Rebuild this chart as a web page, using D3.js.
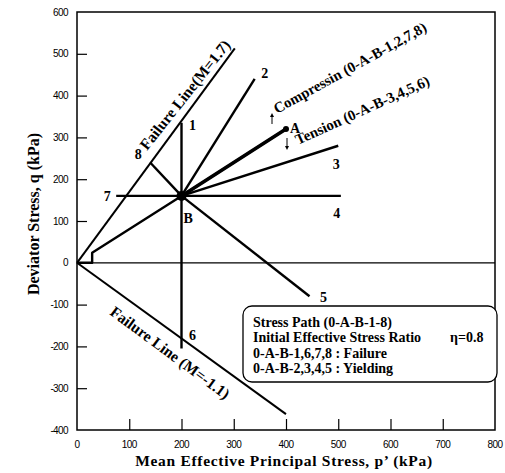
<!DOCTYPE html>
<html>
<head>
<meta charset="utf-8">
<script src="https://cdn.jsdelivr.net/npm/d3@7"></script>
<style>
  html, body { margin: 0; padding: 0; background: #fff; }
  svg { display: block; }
</style>
</head>
<body>
<svg id="chart" width="505" height="473"></svg>
<script>
// Axis ticks
const xTicks = [0, 100, 200, 300, 400, 500, 600, 700, 800];
const yTicks = [600, 500, 400, 300, 200, 100, 0, -100, -200, -300, -400];

// Loading path from origin up to A (η = 0.8), then unloading back to B
const pathOA = [[0, 0], [29, 0], [29, 24], [200, 160], [400, 320]];
const pointA = [400, 320];
const pointB = [200, 160];

// Stress path branches leaving B
const branchNames = ["1", "2", "3", "4", "5", "6", "7", "8"];
const branchEnds = [[200, 335], [340, 440], [500, 280], [505, 160], [445, -80], [200, -205], [75, 160], [140, 240]];

// Failure lines
const failComp = [[0, 0], [302, 513]];
const failExt = [[0, 0], [400, -362]];

const svg = d3.select("#chart");
const x = d3.scaleLinear().domain([0, 800]).range([77, 495]);
const y = d3.scaleLinear().domain([-400, 600]).range([430, 12]);
const line = d3.line().x(d => x(d[0])).y(d => y(d[1]));

const serif = "'Liberation Serif', 'Times New Roman', serif";
const sans = "'Liberation Sans Narrow', 'Liberation Sans', Arial, sans-serif";

// Frame
svg.append("rect")
  .attr("x", x(0)).attr("y", y(600))
  .attr("width", x(800) - x(0)).attr("height", y(-400) - y(600))
  .attr("fill", "none").attr("stroke", "#000").attr("stroke-width", 1.5);

// Inward ticks
const xAxis = d3.axisBottom(x).tickValues(xTicks.slice(1, -1)).tickSizeInner(-11).tickSizeOuter(0).tickFormat("");
svg.append("g").attr("transform", `translate(0,${y(-400)})`).call(xAxis)
  .call(g => g.select(".domain").remove())
  .selectAll("line").attr("stroke-width", 1.2);
const yAxis = d3.axisLeft(y).tickValues(yTicks.filter(v => v !== 600 && v !== -400 && v !== 0)).tickSizeInner(-10).tickSizeOuter(0).tickFormat("");
svg.append("g").attr("transform", `translate(${x(0)},0)`).call(yAxis)
  .call(g => g.select(".domain").remove())
  .selectAll("line").attr("stroke-width", 1.2);

// Tick labels
svg.append("g").selectAll("text").data(xTicks).join("text")
  .attr("x", d => x(d)).attr("y", 448)
  .attr("text-anchor", "middle")
  .attr("font-family", sans).attr("font-size", 10).attr("letter-spacing", -0.6)
  .text(d => d);
svg.append("g").selectAll("text").data(yTicks).join("text")
  .attr("x", 68).attr("y", d => y(d) + 3.5)
  .attr("text-anchor", "end")
  .attr("font-family", sans).attr("font-size", 10).attr("letter-spacing", -0.6)
  .text(d => d);

// Axis titles
svg.append("text")
  .attr("x", 284).attr("y", 466)
  .attr("text-anchor", "middle")
  .attr("font-family", serif).attr("font-weight", "bold").attr("font-size", 15.5).attr("letter-spacing", 0.7)
  .text("Mean Effective Principal Stress, p’ (kPa)");
svg.append("text")
  .attr("transform", "translate(39,214) rotate(-90)")
  .attr("text-anchor", "middle")
  .attr("font-family", serif).attr("font-weight", "bold").attr("font-size", 16)
  .text("Deviator Stress, q (kPa)");

// q = 0 reference line
svg.append("path").attr("d", line([[0, 0], [800, 0]]))
  .attr("stroke", "#000").attr("stroke-width", 1.2).attr("fill", "none");

// Failure lines
[failComp, failExt].forEach(pts => {
  svg.append("path").attr("d", line(pts))
    .attr("stroke", "#000").attr("stroke-width", 2).attr("fill", "none");
});

// Stress paths
svg.append("path").attr("d", line(pathOA))
  .attr("stroke", "#000").attr("stroke-width", 2.4).attr("fill", "none").attr("stroke-linejoin", "round");
svg.append("path").attr("d", line([pointB, pointA]))
  .attr("stroke", "#000").attr("stroke-width", 3.6).attr("fill", "none").attr("stroke-linecap", "round");
branchEnds.forEach(e => {
  svg.append("path").attr("d", line([pointB, e]))
    .attr("stroke", "#000").attr("stroke-width", 2.4).attr("fill", "none");
});
svg.append("circle").attr("cx", x(pointB[0])).attr("cy", y(pointB[1])).attr("r", 5).attr("fill", "#000");
svg.append("circle").attr("cx", x(pointA[0])).attr("cy", y(pointA[1])).attr("r", 3).attr("fill", "#000");

// Branch labels
const labelOffsets = [[11, 7], [10, -1], [-2, 23], [-4, 22], [14, 6], [11, -8], [-9, 5], [-12, -3]];
svg.append("g").selectAll("text").data(branchNames).join("text")
  .attr("x", (d, i) => x(branchEnds[i][0]) + labelOffsets[i][0])
  .attr("y", (d, i) => y(branchEnds[i][1]) + labelOffsets[i][1])
  .attr("text-anchor", "middle")
  .attr("font-family", serif).attr("font-weight", "bold").attr("font-size", 14)
  .text(d => d);
svg.append("text").attr("x", x(pointA[0]) + 4).attr("y", y(pointA[1]) + 4)
  .attr("font-family", serif).attr("font-weight", "bold").attr("font-size", 14).text("A");
svg.append("text").attr("x", x(pointB[0]) + 2).attr("y", y(pointB[1]) + 27)
  .attr("font-family", serif).attr("font-weight", "bold").attr("font-size", 14).text("B");

// Rotated annotations
function rotText(px, py, ang, size, str) {
  svg.append("text")
    .attr("transform", `translate(${px},${py}) rotate(${ang})`)
    .attr("font-family", serif).attr("font-weight", "bold").attr("font-size", size)
    .text(str);
}
rotText(147, 151, -51.5, 15.5, "Failure Line(M=1.7)");
rotText(109, 314, 36.5, 15.5, "Failure Line (M=-1.1)");
rotText(277, 114, -29, 14.8, "Compressin (0-A-B-1,2,7,8)");
rotText(298, 145, -24.5, 14.8, "Tension (0-A-B-3,4,5,6)");

// Small direction arrows
const arrowDefs = svg.append("defs");
arrowDefs.append("marker").attr("id", "ah").attr("viewBox", "0 0 6 6").attr("refX", 3).attr("refY", 3)
  .attr("markerWidth", 4).attr("markerHeight", 4).attr("orient", "auto")
  .append("path").attr("d", "M0,0L6,3L0,6Z").attr("fill", "#000");
svg.append("line").attr("x1", 272).attr("y1", 124).attr("x2", 272).attr("y2", 115)
  .attr("stroke", "#000").attr("stroke-width", 1).attr("marker-end", "url(#ah)");
svg.append("line").attr("x1", 287).attr("y1", 138).attr("x2", 287).attr("y2", 148)
  .attr("stroke", "#000").attr("stroke-width", 1).attr("marker-end", "url(#ah)");

// Legend box
const legendLines = [
  "Stress Path (0-A-B-1-8)",
  "Initial Effective Stress Ratio",
  "0-A-B-1,6,7,8 : Failure",
  "0-A-B-2,3,4,5 : Yielding"
];
svg.append("rect").attr("x", 243).attr("y", 306).attr("width", 254).attr("height", 76).attr("rx", 9)
  .attr("fill", "#fff").attr("stroke", "#000").attr("stroke-width", 1.3);
svg.append("g").selectAll("text").data(legendLines).join("text")
  .attr("x", 253).attr("y", (d, i) => 327 + i * 15.3)
  .attr("font-family", serif).attr("font-weight", "bold").attr("font-size", 14)
  .text(d => d);
svg.append("text").attr("x", 450).attr("y", 342.3)
  .attr("font-family", serif).attr("font-weight", "bold").attr("font-size", 14)
  .text("η=0.8");
</script>
</body>
</html>
